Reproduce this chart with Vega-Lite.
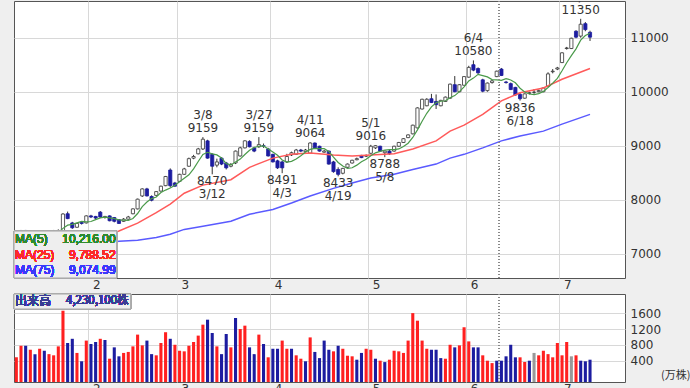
{
"$schema": "https://vega.github.io/schema/vega-lite/v6.json",
"background": "#efefef",
"padding": {"left": 12, "top": 0, "right": 0, "bottom": 0},
"spacing": 1,
"config": {
  "view": {"fill": "#ffffff", "stroke": "#555555"},
  "axis": {"labelFont": "DejaVu Sans", "labelFontSize": 12, "labelColor": "#333333", "gridColor": "#d8d8d8", "tickSize": 0, "domain": false, "labelOverlap": false, "labelSeparation": 0},
  "axisY": {"labelOverlap": false}
},
"datasets": {
"px": [
{"d":"2024-01-10","o":7380,"h":7420,"l":7350,"c":7400,"v":490,"vd":"up","m5":7390,"m25":6700,"m75":6980},
{"d":"2024-01-11","o":7400,"h":7440,"l":7390,"c":7420,"v":780,"vd":"up","m5":7395},
{"d":"2024-01-12","o":7430,"h":7440,"l":7370,"c":7380,"v":780,"vd":"dn","m5":7395},
{"d":"2024-01-15","o":7380,"h":7420,"l":7370,"c":7400,"v":680,"vd":"up","m5":7397},
{"d":"2024-01-16","o":7410,"h":7420,"l":7350,"c":7360,"v":570,"vd":"dn","m5":7392,"m25":6810},
{"d":"2024-01-17","o":7340,"h":7370,"l":7310,"c":7350,"v":705,"vd":"up","m5":7382},
{"d":"2024-01-18","o":7370,"h":7380,"l":7320,"c":7330,"v":655,"vd":"dn","m5":7364},
{"d":"2024-01-19","o":7340,"h":7420,"l":7330,"c":7410,"v":570,"vd":"up","m5":7370},
{"d":"2024-01-22","o":7400,"h":7440,"l":7390,"c":7420,"v":540,"vd":"up","m5":7374,"m75":7080},
{"d":"2024-01-23","o":7420,"h":7450,"l":7400,"c":7430,"v":765,"vd":"up","m5":7388,"m25":7000},
{"d":"2024-01-24","o":7420,"h":7750,"l":7400,"c":7735,"v":1660,"vd":"up","m5":7469},
{"d":"2024-01-25","o":7740,"h":7780,"l":7640,"c":7650,"v":850,"vd":"dn","m5":7529},
{"d":"2024-01-26","o":7570,"h":7590,"l":7460,"c":7480,"v":955,"vd":"dn","m5":7543},
{"d":"2024-01-29","o":7490,"h":7570,"l":7480,"c":7560,"v":600,"vd":"up","m5":7571},
{"d":"2024-01-30","o":7580,"h":7600,"l":7540,"c":7560,"v":390,"vd":"dn","m5":7597},
{"d":"2024-01-31","o":7570,"h":7710,"l":7560,"c":7700,"v":910,"vd":"up","m5":7590,"m25":7200,"m75":7160},
{"d":"2024-02-01","o":7700,"h":7720,"l":7660,"c":7680,"v":825,"vd":"dn","m5":7596},
{"d":"2024-02-02","o":7690,"h":7700,"l":7640,"c":7660,"v":875,"vd":"dn","m5":7632},
{"d":"2024-02-05","o":7770,"h":7790,"l":7660,"c":7680,"v":955,"vd":"up","m5":7664},
{"d":"2024-02-06","o":7670,"h":7700,"l":7650,"c":7690,"v":925,"vd":"dn","m5":7678},
{"d":"2024-02-07","o":7700,"h":7710,"l":7600,"c":7610,"v":455,"vd":"up","m5":7664},
{"d":"2024-02-08","o":7670,"h":7680,"l":7580,"c":7600,"v":740,"vd":"dn","m5":7648},
{"d":"2024-02-09","o":7630,"h":7640,"l":7550,"c":7560,"v":515,"vd":"dn","m5":7628,"m25":7420,"m75":7230},
{"d":"2024-02-13","o":7600,"h":7660,"l":7590,"c":7640,"v":600,"vd":"up","m5":7620},
{"d":"2024-02-14","o":7640,"h":7700,"l":7630,"c":7680,"v":625,"vd":"up","m5":7616},
{"d":"2024-02-15","o":7740,"h":7840,"l":7730,"c":7830,"v":765,"vd":"up","m5":7652},
{"d":"2024-02-16","o":7830,"h":8020,"l":7820,"c":8010,"v":1060,"vd":"up","m5":7744,"m25":7565,"m75":7250},
{"d":"2024-02-19","o":8070,"h":8210,"l":8050,"c":8200,"v":790,"vd":"up","m5":7872},
{"d":"2024-02-20","o":8200,"h":8220,"l":8060,"c":8070,"v":910,"vd":"dn","m5":7958},
{"d":"2024-02-21","o":8060,"h":8080,"l":7970,"c":7990,"v":570,"vd":"dn","m5":8020},
{"d":"2024-02-22","o":8080,"h":8160,"l":8070,"c":8150,"v":540,"vd":"up","m5":8050,"m25":7760,"m75":7300},
{"d":"2024-02-26","o":8160,"h":8260,"l":8150,"c":8250,"v":850,"vd":"up","m5":8132},
{"d":"2024-02-27","o":8260,"h":8440,"l":8250,"c":8430,"v":1120,"vd":"up","m5":8178},
{"d":"2024-02-28","o":8550,"h":8580,"l":8230,"c":8260,"v":955,"vd":"dn","m5":8216,"m25":7920,"m75":7360},
{"d":"2024-02-29","o":8310,"h":8330,"l":8240,"c":8250,"v":805,"vd":"up","m5":8268},
{"d":"2024-03-01","o":8340,"h":8480,"l":8330,"c":8470,"v":655,"vd":"up","m5":8332},
{"d":"2024-03-04","o":8470,"h":8590,"l":8460,"c":8570,"v":640,"vd":"up","m5":8396,"m25":8120,"m75":7450},
{"d":"2024-03-05","o":8620,"h":8780,"l":8610,"c":8760,"v":780,"vd":"up","m5":8462},
{"d":"2024-03-06","o":8770,"h":8830,"l":8750,"c":8800,"v":875,"vd":"up","m5":8570},
{"d":"2024-03-07","o":8850,"h":8960,"l":8840,"c":8940,"v":1035,"vd":"up","m5":8708},
{"d":"2024-03-08","o":8940,"h":9159,"l":8920,"c":9120,"v":1310,"vd":"up","m5":8838,"m25":8270,"m75":7510},
{"d":"2024-03-11","o":9090,"h":9110,"l":8760,"c":8770,"v":1435,"vd":"dn","m5":8878},
{"d":"2024-03-12","o":8840,"h":8860,"l":8470,"c":8620,"v":1100,"vd":"dn","m5":8850},
{"d":"2024-03-13","o":8640,"h":8760,"l":8600,"c":8700,"v":765,"vd":"up","m5":8830},
{"d":"2024-03-14","o":8770,"h":8790,"l":8640,"c":8660,"v":570,"vd":"dn","m5":8774},
{"d":"2024-03-15","o":8680,"h":8700,"l":8560,"c":8590,"v":1075,"vd":"dn","m5":8668},
{"d":"2024-03-18","o":8620,"h":8680,"l":8600,"c":8650,"v":740,"vd":"up","m5":8644,"m25":8370,"m75":7600},
{"d":"2024-03-19","o":8680,"h":8910,"l":8660,"c":8900,"v":1477,"vd":"dn","m5":8700},
{"d":"2024-03-21","o":8810,"h":8980,"l":8800,"c":8960,"v":1200,"vd":"up","m5":8752},
{"d":"2024-03-22","o":8960,"h":9100,"l":8950,"c":9090,"v":1285,"vd":"up","m5":8838},
{"d":"2024-03-25","o":9080,"h":9100,"l":8970,"c":8980,"v":740,"vd":"dn","m5":8916,"m25":8600,"m75":7730},
{"d":"2024-03-26","o":8960,"h":8980,"l":8880,"c":8900,"v":570,"vd":"dn","m5":8966},
{"d":"2024-03-27","o":8980,"h":9159,"l":8960,"c":9020,"v":1060,"vd":"up","m5":8990},
{"d":"2024-03-28","o":9000,"h":9040,"l":8960,"c":8990,"v":825,"vd":"dn","m5":8996},
{"d":"2024-03-29","o":8940,"h":8960,"l":8800,"c":8810,"v":490,"vd":"up","m5":8940},
{"d":"2024-04-01","o":8840,"h":8850,"l":8690,"c":8700,"v":705,"vd":"dn","m5":8884,"m25":8770,"m75":7820},
{"d":"2024-04-02","o":8720,"h":8740,"l":8570,"c":8590,"v":705,"vd":"dn","m5":8822},
{"d":"2024-04-03","o":8700,"h":8720,"l":8491,"c":8590,"v":910,"vd":"up","m5":8736},
{"d":"2024-04-04","o":8700,"h":8850,"l":8680,"c":8800,"v":705,"vd":"up","m5":8698},
{"d":"2024-04-05","o":8830,"h":8890,"l":8810,"c":8870,"v":705,"vd":"dn","m5":8710,"m25":8840,"m75":7940},
{"d":"2024-04-08","o":8840,"h":8940,"l":8830,"c":8920,"v":540,"vd":"up","m5":8754},
{"d":"2024-04-09","o":8920,"h":8940,"l":8880,"c":8900,"v":455,"vd":"up","m5":8816},
{"d":"2024-04-10","o":8890,"h":8940,"l":8880,"c":8920,"v":390,"vd":"dn","m5":8882},
{"d":"2024-04-11","o":8860,"h":9064,"l":8850,"c":9050,"v":990,"vd":"up","m5":8932,"m25":8865,"m75":8070},
{"d":"2024-04-12","o":9050,"h":9060,"l":8950,"c":8960,"v":625,"vd":"dn","m5":8950},
{"d":"2024-04-15","o":8990,"h":9000,"l":8890,"c":8900,"v":470,"vd":"dn","m5":8946},
{"d":"2024-04-16","o":8880,"h":8920,"l":8870,"c":8900,"v":910,"vd":"dn","m5":8946},
{"d":"2024-04-17","o":8900,"h":8910,"l":8650,"c":8660,"v":680,"vd":"dn","m5":8894},
{"d":"2024-04-18","o":8700,"h":8720,"l":8500,"c":8520,"v":640,"vd":"up","m5":8788,"m25":8830,"m75":8210},
{"d":"2024-04-19","o":8560,"h":8600,"l":8433,"c":8470,"v":780,"vd":"dn","m5":8690},
{"d":"2024-04-22","o":8490,"h":8590,"l":8470,"c":8580,"v":705,"vd":"up","m5":8626},
{"d":"2024-04-23","o":8600,"h":8670,"l":8590,"c":8660,"v":530,"vd":"up","m5":8578},
{"d":"2024-04-24","o":8680,"h":8740,"l":8670,"c":8730,"v":515,"vd":"up","m5":8592,"m25":8810,"m75":8310},
{"d":"2024-04-25","o":8740,"h":8780,"l":8730,"c":8760,"v":430,"vd":"dn","m5":8640},
{"d":"2024-04-26","o":8820,"h":8830,"l":8770,"c":8780,"v":600,"vd":"dn","m5":8702},
{"d":"2024-04-30","o":8810,"h":8840,"l":8790,"c":8810,"v":705,"vd":"up","m5":8748},
{"d":"2024-05-01","o":8860,"h":9016,"l":8850,"c":8990,"v":680,"vd":"up","m5":8814,"m25":8830,"m75":8400},
{"d":"2024-05-02","o":8960,"h":9010,"l":8940,"c":9000,"v":455,"vd":"dn","m5":8868},
{"d":"2024-05-07","o":8990,"h":9000,"l":8890,"c":8900,"v":405,"vd":"up","m5":8896},
{"d":"2024-05-08","o":8870,"h":8910,"l":8788,"c":8900,"v":370,"vd":"dn","m5":8920},
{"d":"2024-05-09","o":8900,"h":8920,"l":8830,"c":8850,"v":430,"vd":"up","m5":8928},
{"d":"2024-05-10","o":8900,"h":9000,"l":8890,"c":8990,"v":655,"vd":"up","m5":8928,"m25":8850,"m75":8470},
{"d":"2024-05-13","o":8990,"h":9070,"l":8980,"c":9060,"v":640,"vd":"up","m5":8940},
{"d":"2024-05-14","o":9060,"h":9140,"l":9050,"c":9130,"v":600,"vd":"up","m5":8986},
{"d":"2024-05-15","o":9150,"h":9210,"l":9140,"c":9200,"v":910,"vd":"up","m5":9046},
{"d":"2024-05-16","o":9220,"h":9390,"l":9210,"c":9380,"v":1600,"vd":"up","m5":9152,"m25":8940,"m75":8560},
{"d":"2024-05-17","o":9330,"h":9710,"l":9320,"c":9700,"v":1410,"vd":"up","m5":9294},
{"d":"2024-05-20","o":9680,"h":9870,"l":9670,"c":9860,"v":910,"vd":"up","m5":9454},
{"d":"2024-05-21","o":9740,"h":9880,"l":9730,"c":9860,"v":705,"vd":"up","m5":9600},
{"d":"2024-05-22","o":9870,"h":9960,"l":9790,"c":9800,"v":680,"vd":"dn","m5":9720},
{"d":"2024-05-23","o":9820,"h":9950,"l":9680,"c":9760,"v":680,"vd":"dn","m5":9796,"m25":9090,"m75":8660},
{"d":"2024-05-24","o":9740,"h":9850,"l":9730,"c":9840,"v":470,"vd":"dn","m5":9824},
{"d":"2024-05-27","o":9820,"h":9910,"l":9810,"c":9900,"v":455,"vd":"up","m5":9832},
{"d":"2024-05-28","o":9880,"h":10150,"l":9870,"c":10140,"v":805,"vd":"up","m5":9888,"m25":9270,"m75":8770},
{"d":"2024-05-29","o":10130,"h":10290,"l":9990,"c":10000,"v":740,"vd":"dn","m5":9928},
{"d":"2024-05-30","o":10000,"h":10140,"l":9990,"c":10130,"v":790,"vd":"up","m5":10002},
{"d":"2024-05-31","o":10120,"h":10290,"l":10110,"c":10280,"v":1245,"vd":"up","m5":10090,"m25":9380,"m75":8840},
{"d":"2024-06-03","o":10270,"h":10480,"l":10260,"c":10450,"v":890,"vd":"up","m5":10200},
{"d":"2024-06-04","o":10500,"h":10580,"l":10380,"c":10400,"v":740,"vd":"dn","m5":10252},
{"d":"2024-06-05","o":10430,"h":10450,"l":10330,"c":10350,"v":740,"vd":"dn","m5":10322},
{"d":"2024-06-06","o":10220,"h":10240,"l":9990,"c":10010,"v":540,"vd":"up","m5":10298,"m25":9580,"m75":8960},
{"d":"2024-06-07","o":10020,"h":10170,"l":10000,"c":10160,"v":405,"vd":"up","m5":10274},
{"d":"2024-06-10","o":10170,"h":10220,"l":10150,"c":10200,"v":345,"vd":"up","m5":10224},
{"d":"2024-06-11","o":10280,"h":10390,"l":10270,"c":10380,"v":405,"vd":"dn","m5":10220},
{"d":"2024-06-12","o":10420,"h":10440,"l":10290,"c":10300,"v":405,"vd":"dn","m5":10210,"m25":9830,"m75":9090},
{"d":"2024-06-13","o":10180,"h":10200,"l":10150,"c":10170,"v":515,"vd":"dn","m5":10242},
{"d":"2024-06-14","o":10150,"h":10170,"l":10030,"c":10040,"v":805,"vd":"dn","m5":10218},
{"d":"2024-06-17","o":10080,"h":10090,"l":9930,"c":9940,"v":490,"vd":"dn","m5":10166},
{"d":"2024-06-18","o":9950,"h":9980,"l":9836,"c":9870,"v":490,"vd":"up","m5":10064,"m25":9980,"m75":9180},
{"d":"2024-06-19","o":9880,"h":9970,"l":9870,"c":9960,"v":370,"vd":"up","m5":9996},
{"d":"2024-06-20","o":9970,"h":10000,"l":9950,"c":9980,"v":405,"vd":"dn","m5":9958},
{"d":"2024-06-21","o":9990,"h":10050,"l":9960,"c":9990,"v":600,"vd":"flat","m5":9948},
{"d":"2024-06-24","o":10000,"h":10040,"l":9990,"c":10020,"v":540,"vd":"up","m5":9964},
{"d":"2024-06-25","o":10000,"h":10080,"l":9990,"c":10070,"v":655,"vd":"up","m5":10004,"m25":10070,"m75":9270},
{"d":"2024-06-26","o":10100,"h":10360,"l":10090,"c":10330,"v":570,"vd":"up","m5":10078},
{"d":"2024-06-27","o":10370,"h":10420,"l":10340,"c":10380,"v":490,"vd":"up","m5":10158},
{"d":"2024-06-28","o":10420,"h":10460,"l":10400,"c":10440,"v":850,"vd":"up","m5":10248},
{"d":"2024-07-01","o":10540,"h":10730,"l":10530,"c":10720,"v":540,"vd":"up","m5":10388,"m25":10230,"m75":9400},
{"d":"2024-07-02","o":10800,"h":10830,"l":10780,"c":10810,"v":875,"vd":"up","m5":10536},
{"d":"2024-07-03","o":10800,"h":11000,"l":10790,"c":10990,"v":515,"vd":"flat","m5":10668},
{"d":"2024-07-04","o":11120,"h":11140,"l":10990,"c":11010,"v":540,"vd":"up","m5":10794},
{"d":"2024-07-05","o":11030,"h":11350,"l":11000,"c":11250,"v":405,"vd":"dn","m5":10956},
{"d":"2024-07-08","o":11260,"h":11290,"l":11120,"c":11150,"v":390,"vd":"dn","m5":11042},
{"d":"2024-07-09","o":11100,"h":11130,"l":10940,"c":11010,"v":430,"vd":"dn","m5":11082,"m25":10430,"m75":9580}
],
"ann": [
{"d":"2024-03-08","p":9159,"t":"3/8\n9159","k":"hi"},
{"d":"2024-03-27","p":9159,"t":"3/27\n9159","k":"hi"},
{"d":"2024-04-11","p":9064,"t":"4/11\n9064","k":"hi"},
{"d":"2024-05-01","p":9016,"t":"5/1\n9016","k":"hi"},
{"d":"2024-06-04","p":10580,"t":"6/4\n10580","k":"hi"},
{"d":"2024-07-05","p":11350,"t":"7/5\n11350","k":"hi"},
{"d":"2024-03-12","p":8470,"t":"8470\n3/12","k":"lo"},
{"d":"2024-04-03","p":8491,"t":"8491\n4/3","k":"lo"},
{"d":"2024-04-19","p":8433,"t":"8433\n4/19","k":"lo"},
{"d":"2024-05-08","p":8788,"t":"8788\n5/8","k":"lo"},
{"d":"2024-06-18","p":9836,"t":"9836\n6/18","k":"lo"}
]
},
"vconcat": [
{
"width": 611, "height": 277,
"data": {"name": "px"},
"encoding": {"x": {"field": "d", "type": "ordinal", "title": null,
  "scale": {"type": "band", "paddingInner": 0, "paddingOuter": 0, "domain": ["2024-01-10","2024-01-11","2024-01-12","2024-01-15","2024-01-16","2024-01-17","2024-01-18","2024-01-19","2024-01-22","2024-01-23","2024-01-24","2024-01-25","2024-01-26","2024-01-29","2024-01-30","2024-01-31","2024-02-01","2024-02-02","2024-02-05","2024-02-06","2024-02-07","2024-02-08","2024-02-09","2024-02-13","2024-02-14","2024-02-15","2024-02-16","2024-02-19","2024-02-20","2024-02-21","2024-02-22","2024-02-26","2024-02-27","2024-02-28","2024-02-29","2024-03-01","2024-03-04","2024-03-05","2024-03-06","2024-03-07","2024-03-08","2024-03-11","2024-03-12","2024-03-13","2024-03-14","2024-03-15","2024-03-18","2024-03-19","2024-03-21","2024-03-22","2024-03-25","2024-03-26","2024-03-27","2024-03-28","2024-03-29","2024-04-01","2024-04-02","2024-04-03","2024-04-04","2024-04-05","2024-04-08","2024-04-09","2024-04-10","2024-04-11","2024-04-12","2024-04-15","2024-04-16","2024-04-17","2024-04-18","2024-04-19","2024-04-22","2024-04-23","2024-04-24","2024-04-25","2024-04-26","2024-04-30","2024-05-01","2024-05-02","2024-05-07","2024-05-08","2024-05-09","2024-05-10","2024-05-13","2024-05-14","2024-05-15","2024-05-16","2024-05-17","2024-05-20","2024-05-21","2024-05-22","2024-05-23","2024-05-24","2024-05-27","2024-05-28","2024-05-29","2024-05-30","2024-05-31","2024-06-03","2024-06-04","2024-06-05","2024-06-06","2024-06-07","2024-06-10","2024-06-11","2024-06-12","2024-06-13","2024-06-14","2024-06-17","2024-06-18","2024-06-19","2024-06-20","2024-06-21","2024-06-24","2024-06-25","2024-06-26","2024-06-27","2024-06-28","2024-07-01","2024-07-02","2024-07-03","2024-07-04","2024-07-05","2024-07-08","2024-07-09","2024-07-10","2024-07-11","2024-07-12","2024-07-16","2024-07-17","2024-07-18","2024-07-19"]},
  "axis": {"values": ["2024-02-01","2024-03-01","2024-04-01","2024-05-01","2024-06-03","2024-07-01"], "labelExpr": "'' + toNumber(slice(datum.value, 5, 7))", "bandPosition": 0, "labelAngle": 0, "labelAlign": "left", "labelOffset": 2, "labelPadding": 1, "grid": true, "minExtent": 13, "maxExtent": 13}}},
"layer": [
  {"mark": {"type": "rule", "color": "#333333", "strokeWidth": 1}, "encoding": {"y": {"field": "l", "type": "quantitative", "title": null, "scale": {"domain": [6550, 11680], "nice": false, "zero": false}, "axis": {"orient": "right", "values": [7000, 8000, 9000, 10000, 11000], "format": "d", "labelOverlap": false, "grid": true, "labelPadding": 5, "minExtent": 67, "maxExtent": 67}}, "y2": {"field": "h"}}},
  {"mark": {"type": "bar", "width": {"band": 0.68}, "strokeWidth": 0.8}, "encoding": {"y": {"field": "o", "type": "quantitative", "title": null}, "y2": {"field": "c"}, "fill": {"condition": {"test": "datum.c >= datum.o", "value": "#ffffff"}, "value": "#1c1ca0"}, "stroke": {"condition": {"test": "datum.c >= datum.o", "value": "#333333"}, "value": "#1c1ca0"}}},
  {"mark": {"type": "line", "color": "#5a5aff", "strokeWidth": 1.5}, "transform": [{"filter": "isValid(datum.m75)"}], "encoding": {"y": {"field": "m75", "type": "quantitative", "title": null}}},
  {"mark": {"type": "line", "color": "#ff5a5a", "strokeWidth": 1.5}, "transform": [{"filter": "isValid(datum.m25)"}], "encoding": {"y": {"field": "m25", "type": "quantitative", "title": null}}},
  {"mark": {"type": "line", "color": "#4a9a4a", "strokeWidth": 1.2}, "encoding": {"y": {"field": "m5", "type": "quantitative", "title": null}}},
  {"mark": {"type": "rule", "color": "#888888", "strokeDash": [1, 2]}, "encoding": {"x": {"datum": "2024-06-12", "type": "ordinal", "bandPosition": 0}}},
  {"mark": {"type": "rect", "fill": "#eeeeee", "fillOpacity": 0.82, "stroke": "#aaaaaa", "strokeWidth": 1}, "encoding": {"x": {"datum": "2024-01-10", "type": "ordinal", "bandPosition": 0}, "x2": {"datum": "2024-02-09", "bandPosition": 0}, "y": {"datum": 6550, "type": "quantitative"}, "y2": {"datum": 7420}}},
  {"mark": {"type": "text", "align": "left", "baseline": "middle", "dx": 1, "font": "Liberation Sans", "fontSize": 12, "color": "#2e8b2e", "text": "MA(5)"}, "encoding": {"x": {"datum": "2024-01-10", "type": "ordinal", "bandPosition": 0}, "y": {"datum": 7272, "type": "quantitative"}}},
  {"mark": {"type": "text", "align": "left", "baseline": "middle", "dx": 1, "font": "Liberation Sans", "fontSize": 12, "color": "#ff2a2a", "text": "MA(25)"}, "encoding": {"x": {"datum": "2024-01-10", "type": "ordinal", "bandPosition": 0}, "y": {"datum": 6976, "type": "quantitative"}}},
  {"mark": {"type": "text", "align": "left", "baseline": "middle", "dx": 1, "font": "Liberation Sans", "fontSize": 12, "color": "#3a3aff", "text": "MA(75)"}, "encoding": {"x": {"datum": "2024-01-10", "type": "ordinal", "bandPosition": 0}, "y": {"datum": 6700, "type": "quantitative"}}},
  {"mark": {"type": "text", "align": "right", "baseline": "middle", "dx": -1, "font": "Liberation Sans", "fontSize": 12, "color": "#2e8b2e", "text": "10,216.00"}, "encoding": {"x": {"datum": "2024-02-09", "type": "ordinal", "bandPosition": 0}, "y": {"datum": 7272, "type": "quantitative"}}},
  {"mark": {"type": "text", "align": "right", "baseline": "middle", "dx": -1, "font": "Liberation Sans", "fontSize": 12, "color": "#ff2a2a", "text": "9,788.52"}, "encoding": {"x": {"datum": "2024-02-09", "type": "ordinal", "bandPosition": 0}, "y": {"datum": 6976, "type": "quantitative"}}},
  {"mark": {"type": "text", "align": "right", "baseline": "middle", "dx": -1, "font": "Liberation Sans", "fontSize": 12, "color": "#3a3aff", "text": "9,074.99"}, "encoding": {"x": {"datum": "2024-02-09", "type": "ordinal", "bandPosition": 0}, "y": {"datum": 6700, "type": "quantitative"}}},
  {"data": {"name": "ann"}, "transform": [{"filter": "datum.k == 'hi'"}], "mark": {"type": "text", "lineBreak": "\n", "baseline": "bottom", "dy": -15, "font": "DejaVu Sans", "fontSize": 12, "lineHeight": 13, "color": "#333333", "clip": true}, "encoding": {"y": {"field": "p", "type": "quantitative", "title": null}, "text": {"field": "t"}}},
  {"data": {"name": "ann"}, "transform": [{"filter": "datum.k == 'lo'"}], "mark": {"type": "text", "lineBreak": "\n", "baseline": "top", "dy": 2, "font": "DejaVu Sans", "fontSize": 12, "lineHeight": 13, "color": "#333333", "clip": true}, "encoding": {"y": {"field": "p", "type": "quantitative", "title": null}, "text": {"field": "t"}}}
]
},
{
"width": 611, "height": 88,
"data": {"name": "px"},
"encoding": {"x": {"field": "d", "type": "ordinal", "title": null,
  "scale": {"type": "band", "paddingInner": 0, "paddingOuter": 0, "domain": ["2024-01-10","2024-01-11","2024-01-12","2024-01-15","2024-01-16","2024-01-17","2024-01-18","2024-01-19","2024-01-22","2024-01-23","2024-01-24","2024-01-25","2024-01-26","2024-01-29","2024-01-30","2024-01-31","2024-02-01","2024-02-02","2024-02-05","2024-02-06","2024-02-07","2024-02-08","2024-02-09","2024-02-13","2024-02-14","2024-02-15","2024-02-16","2024-02-19","2024-02-20","2024-02-21","2024-02-22","2024-02-26","2024-02-27","2024-02-28","2024-02-29","2024-03-01","2024-03-04","2024-03-05","2024-03-06","2024-03-07","2024-03-08","2024-03-11","2024-03-12","2024-03-13","2024-03-14","2024-03-15","2024-03-18","2024-03-19","2024-03-21","2024-03-22","2024-03-25","2024-03-26","2024-03-27","2024-03-28","2024-03-29","2024-04-01","2024-04-02","2024-04-03","2024-04-04","2024-04-05","2024-04-08","2024-04-09","2024-04-10","2024-04-11","2024-04-12","2024-04-15","2024-04-16","2024-04-17","2024-04-18","2024-04-19","2024-04-22","2024-04-23","2024-04-24","2024-04-25","2024-04-26","2024-04-30","2024-05-01","2024-05-02","2024-05-07","2024-05-08","2024-05-09","2024-05-10","2024-05-13","2024-05-14","2024-05-15","2024-05-16","2024-05-17","2024-05-20","2024-05-21","2024-05-22","2024-05-23","2024-05-24","2024-05-27","2024-05-28","2024-05-29","2024-05-30","2024-05-31","2024-06-03","2024-06-04","2024-06-05","2024-06-06","2024-06-07","2024-06-10","2024-06-11","2024-06-12","2024-06-13","2024-06-14","2024-06-17","2024-06-18","2024-06-19","2024-06-20","2024-06-21","2024-06-24","2024-06-25","2024-06-26","2024-06-27","2024-06-28","2024-07-01","2024-07-02","2024-07-03","2024-07-04","2024-07-05","2024-07-08","2024-07-09","2024-07-10","2024-07-11","2024-07-12","2024-07-16","2024-07-17","2024-07-18","2024-07-19"]},
  "axis": {"values": ["2024-02-01","2024-03-01","2024-04-01","2024-05-01","2024-06-03","2024-07-01"], "labelExpr": "'' + toNumber(slice(datum.value, 5, 7))", "bandPosition": 0, "labelAngle": 0, "labelAlign": "left", "labelOffset": 2, "labelPadding": 1, "grid": true, "minExtent": 9, "maxExtent": 9}}},
"layer": [
  {"mark": {"type": "bar", "width": {"band": 0.66}}, "encoding": {
    "y": {"field": "v", "type": "quantitative", "title": "(万株)", "scale": {"domain": [-130, 2080], "nice": false, "zero": false},
      "axis": {"orient": "right", "values": [400, 800, 1200, 1600], "tickCount": 4, "format": "d", "labelOverlap": false, "labelFlush": false, "labelBound": false, "grid": true, "labelPadding": 5, "minExtent": 67, "maxExtent": 67, "titleAngle": 0, "titleAlign": "right", "titleBaseline": "bottom", "titleX": 65, "titleY": 86, "titleFont": "Noto Sans CJK JP", "titleFontSize": 11, "titleFontWeight": "normal", "titleColor": "#333333"}},
    "y2": {"datum": -130},
    "color": {"field": "vd", "type": "nominal", "scale": {"domain": ["up", "dn", "flat"], "range": ["#ff2020", "#1c1ca0", "#999999"]}, "legend": null}}},
  {"mark": {"type": "rule", "color": "#888888", "strokeDash": [1, 2]}, "encoding": {"x": {"datum": "2024-06-12", "type": "ordinal", "bandPosition": 0}}},
  {"mark": {"type": "rect", "fill": "#eeeeee", "fillOpacity": 0.9, "stroke": "#aaaaaa", "strokeWidth": 1}, "encoding": {"x": {"datum": "2024-01-10", "type": "ordinal", "bandPosition": 0}, "x2": {"datum": "2024-02-15", "bandPosition": 0}, "y": {"datum": 2080, "type": "quantitative"}, "y2": {"datum": 1703}}},
  {"mark": {"type": "text", "align": "left", "baseline": "middle", "dx": 1, "font": "Noto Sans CJK JP", "fontSize": 12, "color": "#3b3b95", "text": "出来高"}, "encoding": {"x": {"datum": "2024-01-10", "type": "ordinal", "bandPosition": 0}, "y": {"datum": 1892, "type": "quantitative"}}},
  {"mark": {"type": "text", "align": "right", "baseline": "middle", "dx": -2, "font": "Noto Sans CJK JP", "fontSize": 11.5, "color": "#3b3b95", "text": "4,230,100株"}, "encoding": {"x": {"datum": "2024-02-15", "type": "ordinal", "bandPosition": 0}, "y": {"datum": 1892, "type": "quantitative"}}}
]
}
]
}
